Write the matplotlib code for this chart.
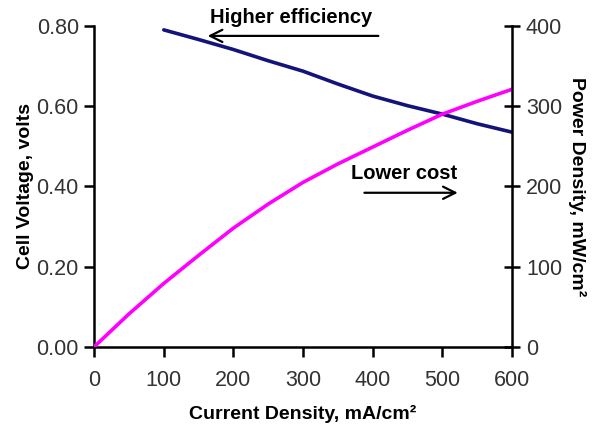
import matplotlib
matplotlib.use("Agg")
import matplotlib.pyplot as plt

plt.rcParams['font.family'] = ['Liberation Sans', 'DejaVu Sans']

# Data
volt_current = [100, 150, 200, 250, 300, 350, 400, 450, 500, 550, 600]
cell_voltage = [0.79, 0.766, 0.741, 0.713, 0.687, 0.655, 0.625, 0.601, 0.580, 0.556, 0.535]

power_current = [0, 50, 100, 150, 200, 250, 300, 350, 400, 450, 500, 550, 600]
power_density = [0, 41, 79, 114, 148, 178, 205, 228, 249, 270, 290, 306, 321]

x_ticks = [0, 100, 200, 300, 400, 500, 600]
v_ticks = [0.0, 0.2, 0.4, 0.6, 0.8]
p_ticks = [0, 100, 200, 300, 400]

fig = plt.figure(figsize=(5.92, 4.24), dpi=100)
ax = fig.add_axes([0.159, 0.182, 0.706, 0.757])
ax2 = ax.twinx()

ax.plot(volt_current, cell_voltage, color='#14137a', lw=2.6, solid_capstyle='round')
ax2.plot(power_current, power_density, color='#ff00ff', lw=2.6, solid_capstyle='round')

ax.set_xlim(0, 600)
ax.set_ylim(0, 0.8)
ax2.set_ylim(0, 400)
ax.set_xticks(x_ticks)
ax.set_yticks(v_ticks)
ax.set_yticklabels([f"{v:.2f}" for v in v_ticks])
ax2.set_yticks(p_ticks)

for a in (ax, ax2):
    for s in a.spines.values():
        s.set_linewidth(1.8)
    a.spines['top'].set_visible(False)
ax.spines['right'].set_visible(False)
ax2.spines['left'].set_visible(False)
ax2.spines['bottom'].set_visible(False)

ax.tick_params(axis='both', direction='out', length=7, width=1.8,
               labelsize=15.5, labelcolor='#333333', pad=4)
ax.tick_params(axis='x', pad=10)
ax2.tick_params(axis='y', direction='inout', length=12, width=1.8,
                labelsize=15.5, labelcolor='#333333', pad=4)

ax.set_xlabel("Current Density, mA/cm²", fontsize=14, fontweight='bold', labelpad=10)
ax.set_ylabel("Cell Voltage, volts", fontsize=14, fontweight='bold', labelpad=2)
ax2.set_ylabel("Power Density, mW/cm²", fontsize=14, fontweight='bold',
               rotation=270, labelpad=17)

# Annotations
ax.text(283, 0.822, "Higher efficiency", fontsize=14.5, fontweight='bold',
        ha='center', va='center', clip_on=False)
ax.annotate("", xy=(159, 0.775), xytext=(412, 0.775),
            arrowprops=dict(arrowstyle='->', color='black', lw=1.6,
                            mutation_scale=22))
ax.text(445, 0.432, "Lower cost", fontsize=14.5, fontweight='bold',
        ha='center', va='center')
ax.annotate("", xy=(526, 0.384), xytext=(384, 0.384),
            arrowprops=dict(arrowstyle='->', color='black', lw=1.6,
                            mutation_scale=22))

fig.savefig("out.png", dpi=100)
